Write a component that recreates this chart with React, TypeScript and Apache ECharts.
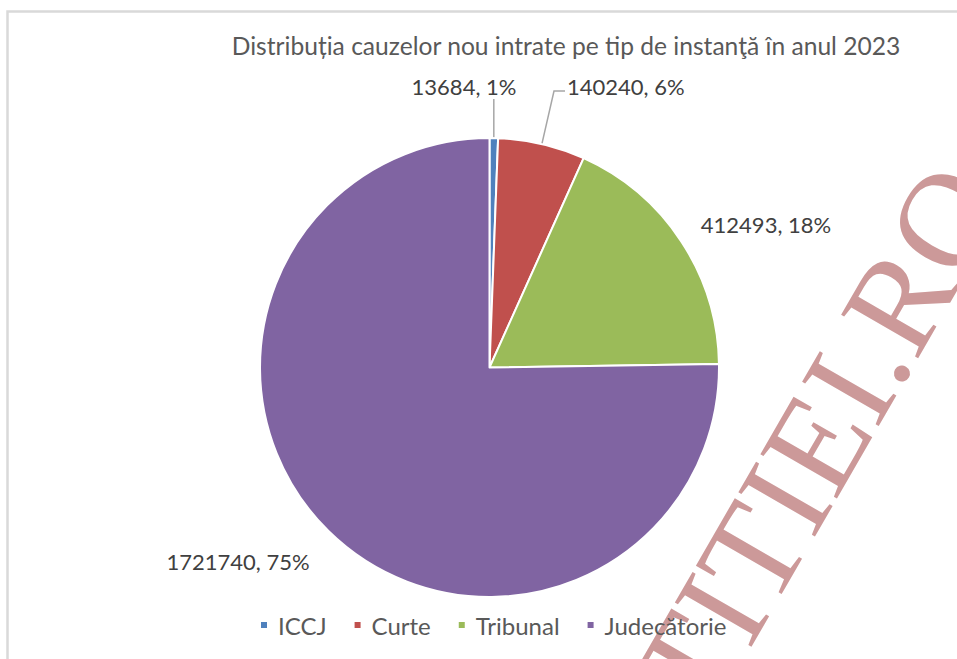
import React, { useEffect, useRef } from 'react';
import * as echarts from 'echarts';

const categories = ['ICCJ', 'Curte', 'Tribunal', 'Judecătorie'];
const values = [13684, 140240, 412493, 1721740];
const sliceColors = ['#4f81bd', '#c0504d', '#9bbb59', '#8064a2'];
const titleText = 'Distribuția cauzelor nou intrate pe tip de instanţă în anul 2023';
const watermarkText = 'LUMEAJUSTITIEI.RO';

const FONT = 'Lato, "Noto Sans", sans-serif';

export default function App() {
  const ref = useRef<HTMLDivElement>(null);

  useEffect(() => {
    if (!ref.current) return;
    const chart = echarts.init(ref.current, null, { renderer: 'svg' });
    const cx = 489.5;
    const cy = 367.5;
    const r = 229.5;
    const total = values.reduce((a, b) => a + b, 0);
    const edgePoint = (i: number): number[] => {
      const before = values.slice(0, i).reduce((a, b) => a + b, 0);
      const frac = (before + values[i] / 2) / total;
      const a = frac * 2 * Math.PI;
      return [cx + r * Math.sin(a), cy - r * Math.cos(a)];
    };
    const labelPlace: any[] = [
      { x: 464, y: 86, align: 'center' },
      { x: 567, y: 86, align: 'left' },
      { x: 766, y: 224, align: 'center' },
      { x: 238, y: 561, align: 'center' },
    ];

    chart.setOption({
      animation: false,
      backgroundColor: '#ffffff',
      title: {
        text: titleText,
        left: 561,
        textAlign: 'center',
        top: 27,
        textStyle: {
          fontFamily: FONT,
          fontSize: 24.6,
          fontWeight: 'normal',
          color: '#595959',
          lineHeight: 26,
        },
      },
      legend: {
        data: categories,
        left: 254,
        top: 608,
        itemWidth: 8,
        itemHeight: 8,
        itemGap: 26,
        icon: 'rect',
        textStyle: { fontFamily: FONT, fontSize: 24, color: '#595959', padding: [0, 0, 0, 5] },
      },
      graphic: [
        {
          type: 'rect',
          silent: true,
          z: -10,
          shape: { x: 7.5, y: 11.5, width: 1200, height: 1000 },
          style: { fill: 'none', stroke: '#d9d9d9', lineWidth: 2.5 },
        },
        {
          type: 'text',
          silent: true,
          z: -5,
          x: 970,
          y: 177,
          rotation: (60 * Math.PI) / 180,
          style: {
            text: watermarkText,
            fill: '#cc9999',
            fontSize: 135,
            fontFamily: '"Liberation Serif", "DejaVu Serif", serif',
            align: 'right',
            verticalAlign: 'middle',
          },
        },
      ],
      series: [
        {
          type: 'pie',
          center: [cx, cy],
          radius: r,
          startAngle: 90,
          clockwise: true,
          avoidLabelOverlap: false,
          itemStyle: { borderColor: '#ffffff', borderWidth: 2 },
          label: {
            show: true,
            position: 'outside',
            formatter: (p: any) => `${p.value}, ${Math.round(p.percent)}%`,
            color: '#404040',
            fontFamily: FONT,
            fontSize: 22,
          },
          labelLine: { show: true, lineStyle: { color: '#a6a6a6', width: 1.5 } },
          labelLayout: (params: any) => {
            const i = params.dataIndex;
            const p = labelPlace[i];
            const res: any = { x: p.x, y: p.y, align: p.align, verticalAlign: 'middle' };
            if (i === 0) {
              const e = edgePoint(0);
              res.labelLinePoints = [e, [e[0], (e[1] + 99) / 2], [e[0], 99]];
            } else if (i === 1) {
              const e = edgePoint(1);
              res.labelLinePoints = [e, [554, 91], [565, 91]];
            }
            return res;
          },
          emphasis: { disabled: true },
          data: categories.map((name, i) => ({
            name,
            value: values[i],
            itemStyle: { color: sliceColors[i] },
            labelLine: { show: i < 2 },
          })),
        },
      ],
    });

    return () => chart.dispose();
  }, []);

  return (
    <div
      ref={ref}
      style={{ position: 'fixed', left: 0, top: 0, width: 957, height: 659, background: '#fff' }}
    />
  );
}
